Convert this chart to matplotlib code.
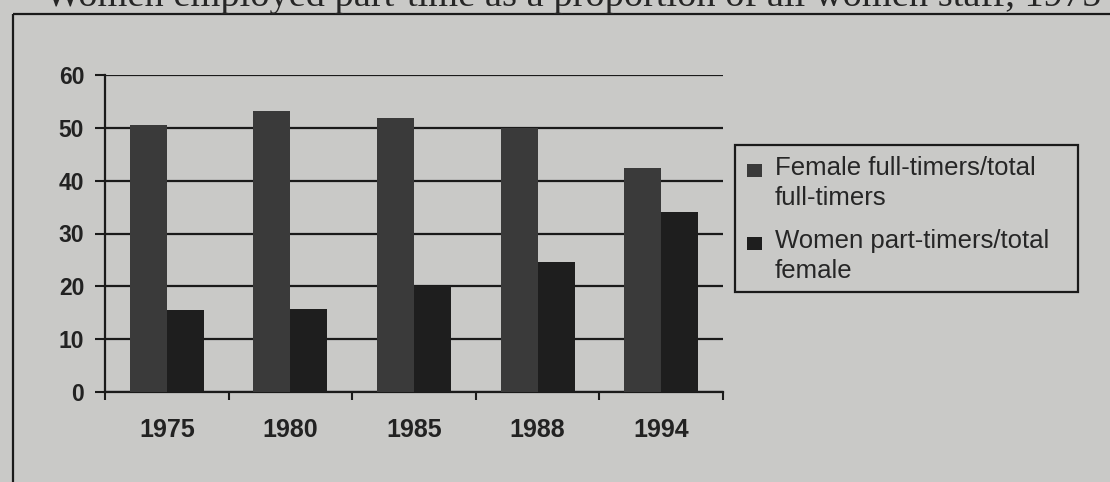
import numpy as np
import matplotlib.pyplot as plt
from matplotlib.patches import Rectangle

# share of staff, per cent
years = ['1975', '1980', '1985', '1988', '1994']
full_timers = [50.6, 53.1, 51.8, 49.9, 42.4]
part_timers = [15.5, 15.7, 20.1, 24.6, 34.0]
label_lines = [['Female full-timers/total', 'full-timers'],
               ['Women part-timers/total', 'female']]

bg = '#c9c9c7'
ink = '#1a1a1a'
c_full = '#3a3a3a'
c_part = '#1e1e1e'

W, H = 1110, 482
fig = plt.figure(figsize=(W / 100, H / 100), dpi=100, facecolor=bg)


def px(x, y):
    # pixel position (from top-left) to figure fraction
    return x / W, 1 - y / H


# page title, mostly cut off at the top edge
fig.text(*px(45, 6), 'Women employed part-time as a proportion of all women staff, 1975',
         family='Liberation Serif', fontsize=27.6, color='#262626', ha='left', va='baseline')

# outer frame around the chart
fig.add_artist(Rectangle(px(13, 14), 1.2, -1.2, transform=fig.transFigure,
                         fill=False, edgecolor=ink, linewidth=1.6))

ax = fig.add_axes([105 / W, 1 - 392 / H, (723 - 105) / W, (392 - 75) / H])
ax.set_facecolor(bg)

x = np.arange(len(years))
w = 0.3
ax.bar(x - w / 2, full_timers, w, color=c_full, zorder=3)
ax.bar(x + w / 2, part_timers, w, color=c_part, zorder=3)

ax.set_xlim(-0.5, len(years) - 0.5)
ax.set_ylim(0, 60)
ax.set_yticks(range(0, 61, 10))
ax.yaxis.grid(True, color=ink, linewidth=1.6, zorder=1)
ax.set_axisbelow(True)

# tick marks sit between the year groups, labels at the centres
ax.set_xticks(np.arange(-0.5, len(years), 1.0))
ax.set_xticklabels([])
ax.set_xticks(x, minor=True)
ax.set_xticklabels(years, minor=True)
ax.tick_params(axis='x', which='major', direction='out', length=6, width=1.5, color=ink)
ax.tick_params(axis='x', which='minor', length=0, pad=19)
ax.tick_params(axis='y', direction='out', length=7, width=1.5, color=ink, pad=8)

for lab in ax.get_xticklabels(minor=True):
    lab.set_fontsize(18)
for lab in ax.get_yticklabels():
    lab.set_fontsize(16.5)
for lab in ax.get_xticklabels(minor=True) + ax.get_yticklabels():
    lab.set_family('Liberation Sans')
    lab.set_fontweight('bold')
    lab.set_color('#222222')

for side in ['top', 'right']:
    ax.spines[side].set_visible(False)
for side in ['left', 'bottom']:
    ax.spines[side].set_linewidth(1.6)
    ax.spines[side].set_color(ink)

# legend box drawn by hand so the swatch sits on the first line of each label
fig.add_artist(Rectangle(px(735, 292), (1078 - 735) / W, (292 - 145) / H,
                         transform=fig.transFigure, facecolor=bg, edgecolor=ink, linewidth=1.6))
for i, (lines, col) in enumerate(zip(label_lines, [c_full, c_part])):
    top = 175 + i * 73
    fig.add_artist(Rectangle(px(747, top + 2), 15 / W, 13 / H,
                             transform=fig.transFigure, facecolor=col, edgecolor='none'))
    for j, line in enumerate(lines):
        fig.text(*px(775, top + j * 30), line, family='Liberation Sans', fontsize=18.5,
                 color='#262626', ha='left', va='baseline')

fig.savefig('out.png', dpi=100, facecolor=bg)
